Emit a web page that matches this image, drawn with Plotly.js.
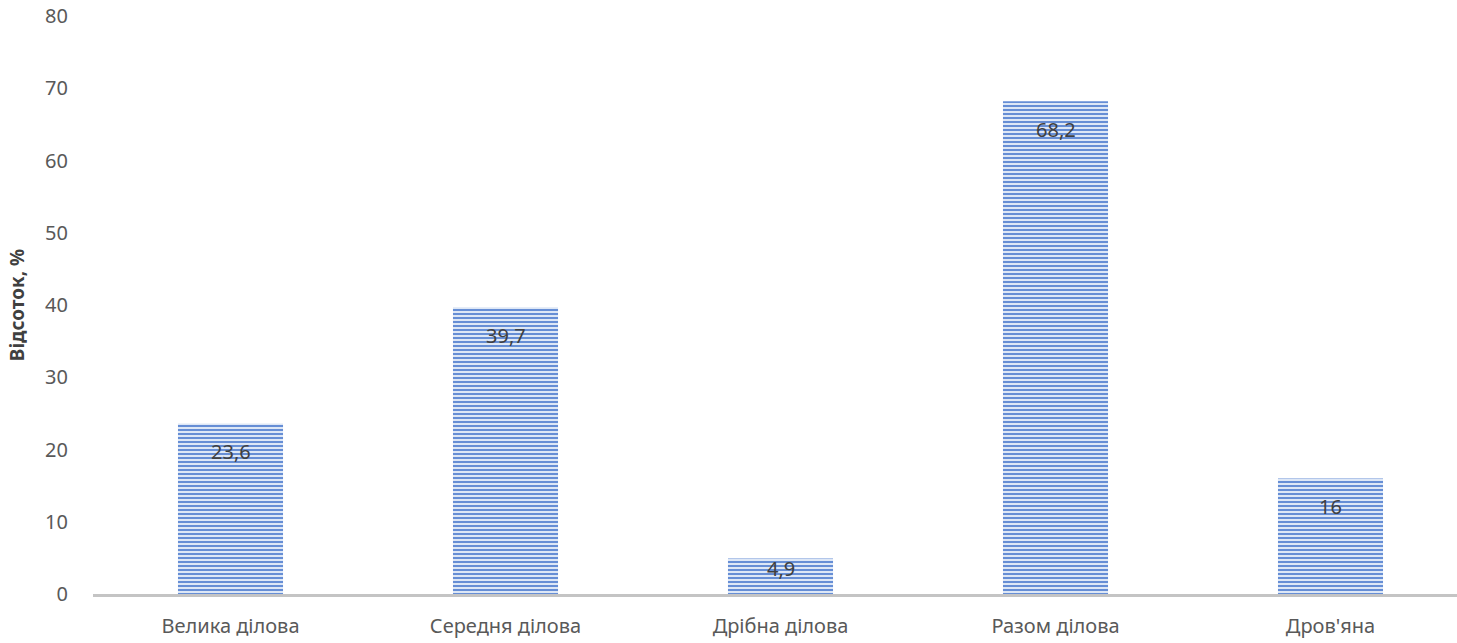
<!DOCTYPE html>
<html>
<head>
<meta charset="utf-8">
<script src="https://cdn.plot.ly/plotly-3.0.1.min.js"></script>
<style>
  html, body { margin: 0; padding: 0; background: #ffffff; }
  #chart { width: 1457px; height: 643px; }
</style>
</head>
<body>
<div id="chart"></div>
<script>
// Timber assortment yield, percent
const categories = ['Велика ділова', 'Середня ділова', 'Дрібна ділова', 'Разом ділова', "Дров'яна"];
const shares = [23.6, 39.7, 4.9, 68.2, 16];
const shareLabels = ['23,6', '39,7', '4,9', '68,2', '16'];
const yTicks = [0, 10, 20, 30, 40, 50, 60, 70, 80];

const plotTop = 16, plotBottom = 49;
const plotHeight = 643 - plotTop - plotBottom;
const yMax = 80;
const pxPerUnit = plotHeight / yMax;

// Value labels sit inside the top of each bar, nudged up for short bars
const annotations = categories.map((c, i) => {
  const barPx = shares[i] * pxPerUnit;
  const shift = -Math.min(28, barPx - 26);
  return {
    x: c, y: shares[i], xref: 'x', yref: 'y',
    text: shareLabels[i], showarrow: false,
    yshift: shift,
    font: { family: 'Noto Sans, DejaVu Sans, sans-serif', size: 20, color: '#404040' }
  };
});

const trace = {
  type: 'bar',
  x: categories,
  y: shares,
  marker: {
    color: '#dde7f6',
    line: { width: 0 },
    pattern: { shape: '-', fgcolor: '#668ed5', bgcolor: '#dde7f6', size: 4, solidity: 0.5, fillmode: 'replace' }
  },
  hoverinfo: 'x+y'
};

const layout = {
  width: 1457, height: 643,
  margin: { l: 93, r: 0, t: plotTop, b: plotBottom, pad: 0 },
  paper_bgcolor: '#ffffff', plot_bgcolor: '#ffffff',
  bargap: 0.618,
  showlegend: false,
  font: { family: 'Noto Sans, DejaVu Sans, sans-serif', color: '#595959' },
  xaxis: {
    type: 'category',
    range: [-0.5, 4.46],
    showline: true, linecolor: '#c4c4c4', linewidth: 3,
    showgrid: false, zeroline: false,
    ticks: 'outside', ticklen: 12, tickcolor: 'rgba(0,0,0,0)',
    tickfont: { size: 20, color: '#595959' }
  },
  yaxis: {
    range: [0, yMax],
    tickvals: yTicks,
    ticktext: yTicks.map(String),
    showgrid: false, zeroline: false, showline: false,
    ticks: 'outside', ticklen: 20, tickcolor: 'rgba(0,0,0,0)',
    tickfont: { size: 20, color: '#595959' },
    title: {
      text: '<b>Відсоток, %</b>',
      standoff: 15,
      font: { size: 19, color: '#404040' }
    }
  },
  annotations: annotations
};

Plotly.newPlot('chart', [trace], layout, { displayModeBar: false, staticPlot: true });
</script>
</body>
</html>
